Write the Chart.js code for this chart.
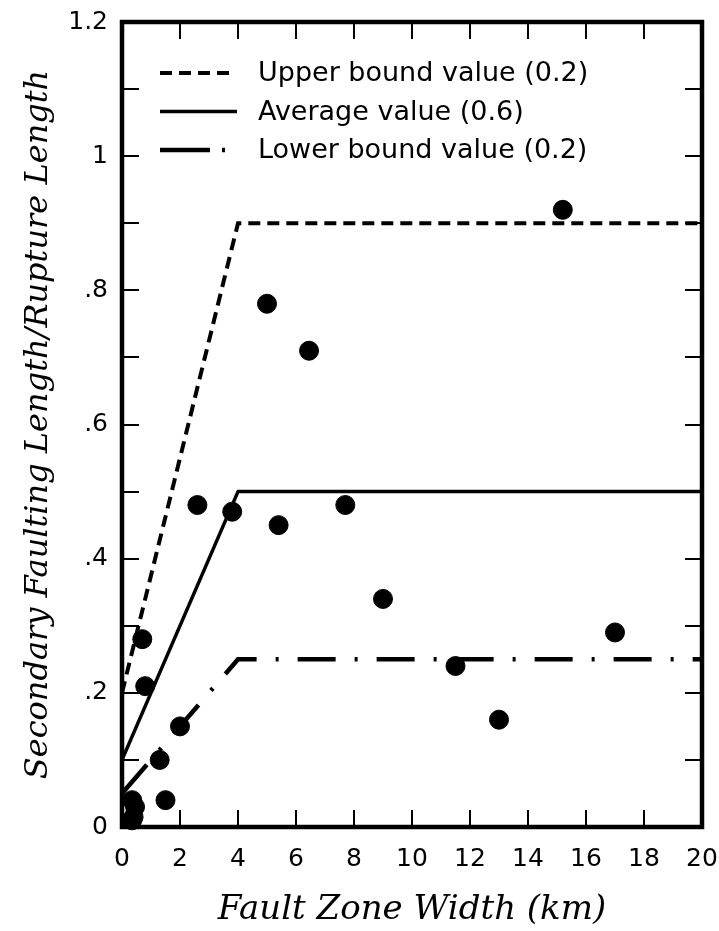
<!DOCTYPE html>
<html>
<head>
<meta charset="utf-8">
<script src="https://cdn.jsdelivr.net/npm/chart.js@4.4.1/dist/chart.umd.min.js"></script>
<style>
  html, body { margin: 0; padding: 0; background: #fff; }
  #wrap { width: 719px; height: 931px; position: relative; }
</style>
</head>
<body>
<div id="wrap"><canvas id="grafico"></canvas></div>
<script>
// observed points: fault zone width (km) vs secondary/rupture length ratio
const larguraZona = [0.35, 0.45, 0.4, 0.35, 0.7, 0.8, 1.3, 1.5, 2.0, 2.6, 3.8, 5.0, 5.4, 6.45, 7.7, 9.0, 11.5, 13.0, 15.2, 17.0];
const razaoFalha  = [0.04, 0.03, 0.015, 0.01, 0.28, 0.21, 0.10, 0.04, 0.15, 0.48, 0.47, 0.78, 0.45, 0.71, 0.48, 0.34, 0.24, 0.16, 0.92, 0.29];

// envelope lines
const limiteX   = [0, 4, 20];
const superiorY = [0.2, 0.9, 0.9];
const medioY    = [0.1, 0.5, 0.5];
const inferiorY = [0.05, 0.25, 0.25];

const rotulos = ["Upper bound value (0.2)", "Average value (0.6)", "Lower bound value (0.2)"];
const tituloX = "Fault Zone Width (km)";
const tituloY = "Secondary Faulting Length/Rupture Length";

const pares = (xs, ys) => xs.map((x, i) => ({ x, y: ys[i] }));

Chart.defaults.font.family = "'DejaVu Sans', sans-serif";
Chart.defaults.color = "#000";

// frame and inward ticks on all four sides
const moldura = {
  id: "moldura",
  afterDatasetsDraw(chart) {
    const { ctx, chartArea: a, scales } = chart;
    const tam = 17;
    ctx.save();
    ctx.strokeStyle = "#000";
    ctx.lineWidth = 2;
    ctx.beginPath();
    scales.x.ticks.forEach(t => {
      if (t.value <= scales.x.min || t.value >= scales.x.max) return;
      const px = Math.round(scales.x.getPixelForValue(t.value));
      ctx.moveTo(px, a.bottom); ctx.lineTo(px, a.bottom - tam);
      ctx.moveTo(px, a.top); ctx.lineTo(px, a.top + tam);
    });
    scales.y.ticks.forEach(t => {
      if (t.value <= scales.y.min || t.value >= scales.y.max) return;
      const py = Math.round(scales.y.getPixelForValue(t.value));
      ctx.moveTo(a.left, py); ctx.lineTo(a.left + tam, py);
      ctx.moveTo(a.right, py); ctx.lineTo(a.right - tam, py);
    });
    ctx.stroke();
    ctx.lineWidth = 4.5;
    ctx.strokeRect(a.left, a.top, a.right - a.left, a.bottom - a.top);
    ctx.restore();
  }
};

// legend box in the upper-left of the plot
const legenda = {
  id: "legenda",
  afterDraw(chart) {
    const { ctx } = chart;
    const x0 = 160, x1 = 229, xt = 258;
    ctx.save();
    ctx.font = "27px 'DejaVu Sans'";
    ctx.fillStyle = "#000";
    ctx.textBaseline = "middle";
    chart.data.datasets.forEach((ds, i) => {
      if (!ds.showLine) return;
      const y = 73 + i * 38.5;
      ctx.strokeStyle = "#000";
      ctx.lineWidth = ds.borderWidth;
      ctx.setLineDash(ds.legendaDash || ds.borderDash || []);
      ctx.beginPath();
      ctx.moveTo(x0, y);
      ctx.lineTo(ds.legendaFim || x1, y);
      ctx.stroke();
      ctx.setLineDash([]);
      ctx.fillText(ds.label, xt, y + 1);
    });
    ctx.restore();
  }
};

// keep the plot box fixed: no extra room for the outermost tick labels
function semFolga(s) {
  s.paddingLeft = 0; s.paddingRight = 0;
  s.paddingTop = 0; s.paddingBottom = 0;
}

new Chart(document.getElementById("grafico"), {
  type: "scatter",
  data: {
    datasets: [
      {
        label: rotulos[0],
        data: pares(limiteX, superiorY),
        showLine: true,
        borderColor: "#000",
        borderWidth: 4,
        borderDash: [12, 7],
        pointRadius: 0
      },
      {
        label: rotulos[1],
        data: pares(limiteX, medioY),
        showLine: true,
        borderColor: "#000",
        borderWidth: 3.5,
        borderJoinStyle: "round",
        pointRadius: 0,
        legendaFim: 237
      },
      {
        label: rotulos[2],
        data: pares(limiteX, inferiorY),
        showLine: true,
        borderColor: "#000",
        borderWidth: 4.5,
        borderDash: [38, 19, 3, 19],
        pointRadius: 0,
        legendaDash: [50, 12, 3, 100],
        legendaFim: 226
      },
      {
        label: "dados",
        data: pares(larguraZona, razaoFalha),
        backgroundColor: "#000",
        borderColor: "#000",
        pointRadius: 9.5,
        pointHoverRadius: 9.5,
        clip: false
      }
    ]
  },
  options: {
    responsive: true,
    maintainAspectRatio: false,
    animation: false,
    events: [],
    layout: { padding: { top: 22, right: 17, left: 0, bottom: 0 } },
    plugins: { legend: { display: false }, tooltip: { enabled: false } },
    scales: {
      x: {
        type: "linear",
        min: 0, max: 20,
        grid: { display: false, drawTicks: false },
        border: { display: false },
        ticks: { stepSize: 2, autoSkip: false, maxRotation: 0, padding: 17, font: { size: 25 } },
        title: {
          display: true,
          text: tituloX,
          font: { family: "'DejaVu Serif'", style: "italic", size: 34 },
          padding: { top: 0, bottom: 0 }
        },
        afterFit(s) { s.height = 104; semFolga(s); }
      },
      y: {
        type: "linear",
        min: 0, max: 1.2,
        grid: { display: false, drawTicks: false },
        border: { display: false },
        ticks: {
          stepSize: 0.1,
          autoSkip: false,
          padding: 14,
          font: { size: 25 },
          callback(v) {
            const d = Math.round(v * 10);
            if (d % 2) return "";
            return String(d / 10).replace(/^0\./, ".");
          }
        },
        title: {
          display: true,
          text: tituloY,
          font: { family: "'DejaVu Serif'", style: "italic", size: 32 },
          padding: { top: 19, bottom: 0 }
        },
        afterFit(s) { s.width = 122; semFolga(s); }
      }
    }
  },
  plugins: [moldura, legenda]
});
</script>
</body>
</html>
